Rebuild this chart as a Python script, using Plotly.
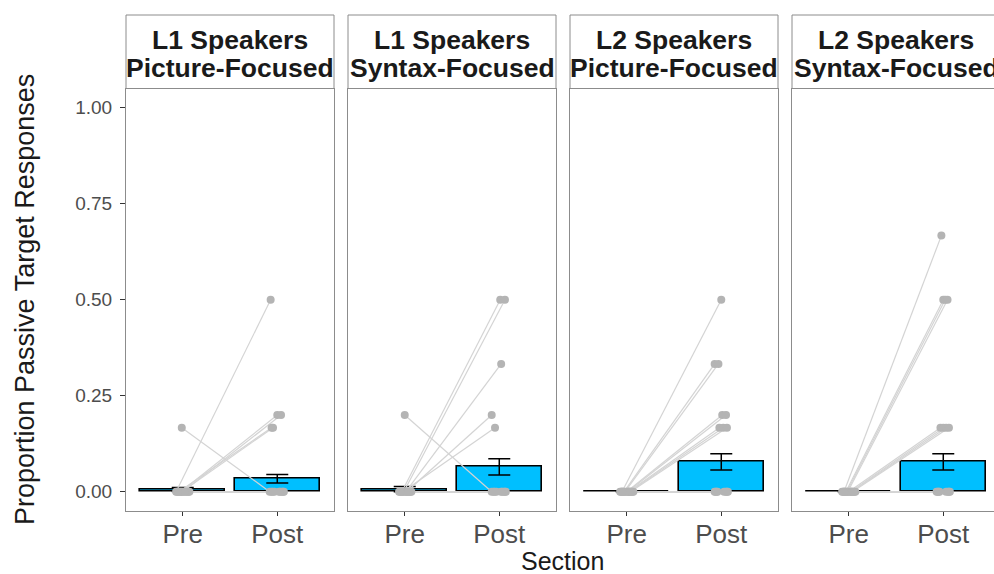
import plotly.graph_objects as go

# ---------------- data ----------------
sections = ["Pre", "Post"]
strip_top = ["L1 Speakers", "L1 Speakers", "L2 Speakers", "L2 Speakers"]
strip_bottom = ["Picture-Focused", "Syntax-Focused", "Picture-Focused", "Syntax-Focused"]

pre_means = [0.006, 0.007, 0.0, 0.0]
post_means = [0.034, 0.065, 0.078, 0.078]
pre_se = [0.005, 0.007, 0.0, 0.0]
post_se = [0.011, 0.021, 0.021, 0.021]

p1_pre = [0, 0, 0, 0, 0, 0.167, 0, 0, 0, 0, 0, 0, 0, 0]
p1_post = [0.5, 0.2, 0.2, 0.167, 0.167, 0, 0, 0, 0, 0, 0, 0, 0, 0]
p1_jit_pre = [-0.07, -0.02, 0.0, -0.04, -0.01, -0.01, 0.06, -0.06, 0.03, 0.07, -0.03, 0.05, 0.02, -0.05]
p1_jit_post = [-0.07, 0.0, 0.04, -0.06, -0.045, -0.08, 0.06, -0.06, 0.03, 0.07, -0.03, 0.05, 0.02, -0.05]

p2_pre = [0.2, 0, 0, 0, 0, 0, 0, 0, 0, 0, 0, 0, 0, 0]
p2_post = [0, 0.5, 0.5, 0.333, 0.2, 0.167, 0, 0, 0, 0, 0, 0, 0, 0]
p2_jit_pre = [0.0, -0.03, -0.01, 0.01, 0.02, -0.02, 0.06, -0.06, 0.03, 0.07, -0.04, 0.05, 0.04, -0.05]
p2_jit_post = [-0.08, 0.01, 0.06, 0.02, -0.08, -0.045, 0.06, -0.06, 0.03, 0.07, -0.03, 0.05, 0.02, -0.05]

p3_pre = [0, 0, 0, 0, 0, 0, 0, 0, 0, 0, 0, 0, 0, 0, 0, 0]
p3_post = [0.5, 0.333, 0.333, 0.2, 0.2, 0.167, 0.167, 0.167, 0, 0, 0, 0, 0, 0, 0, 0]
p3_jit_pre = [-0.05, -0.03, -0.02, 0.0, 0.01, 0.02, 0.03, 0.04, 0.06, -0.06, 0.03, 0.07, -0.04, 0.05, -0.07, -0.05]
p3_jit_post = [0.0, -0.07, -0.03, 0.01, 0.05, -0.02, 0.02, 0.06, 0.06, -0.06, 0.03, 0.07, -0.04, 0.05, -0.07, -0.05]

p4_pre = [0, 0, 0, 0, 0, 0, 0, 0, 0, 0, 0, 0, 0, 0, 0, 0]
p4_post = [0.667, 0.5, 0.5, 0.5, 0.167, 0.167, 0.167, 0.167, 0, 0, 0, 0, 0, 0, 0, 0]
p4_jit_pre = [-0.05, -0.03, -0.02, -0.01, 0.0, 0.02, 0.03, 0.04, 0.06, -0.06, 0.03, 0.07, -0.04, 0.05, -0.07, -0.05]
p4_jit_post = [-0.02, 0.0, 0.02, 0.045, -0.03, 0.0, 0.03, 0.06, 0.06, -0.06, 0.03, 0.07, -0.04, 0.05, -0.07, -0.05]

participants = [
    (p1_pre, p1_post, p1_jit_pre, p1_jit_post),
    (p2_pre, p2_post, p2_jit_pre, p2_jit_post),
    (p3_pre, p3_post, p3_jit_pre, p3_jit_post),
    (p4_pre, p4_post, p4_jit_pre, p4_jit_post),
]

# ---------------- layout geometry ----------------
W, H = 994, 574
ML, MR, MT, MB = 126, 0, 15, 63
PW = W - ML - MR          # plot-area width in px
PH = H - MT - MB          # plot-area height in px
panel_w = 208
gap = 14
strip_h = 73.5
ydom_top = (PH - strip_h) / PH
px_per_unit = panel_w / 2.2

FONT = "Liberation Sans, Arial, Helvetica"
BORDER = "#8c8c8c"
BAR_FILL = "#00BFFF"
LINE_COL = "#d4d4d4"
PT_COL = "#b4b4b4"
TXT_GRAY = "#4d4d4d"

fig = go.Figure()
annotations = []
shapes = []

for k in range(4):
    x0px = k * (panel_w + gap)
    x1px = min(x0px + panel_w, PW)
    dom = [x0px / PW, x1px / PW]
    xr_max = 0.4 + (x1px - x0px) / px_per_unit
    sfx = "" if k == 0 else str(k + 1)
    xa, ya = "x" + sfx, "y" + sfx

    # bars with error bars
    fig.add_trace(go.Bar(
        x=[1, 2], y=[pre_means[k], post_means[k]], width=0.9,
        marker=dict(color=BAR_FILL, line=dict(color="black", width=1.6)),
        error_y=dict(type="data", array=[pre_se[k], post_se[k]], color="black",
                     thickness=1.5, width=11),
        xaxis=xa, yaxis=ya, showlegend=False, hoverinfo="skip"))

    pre, post, jpre, jpost = participants[k]
    lx, ly = [], []
    px, py = [], []
    for a, b, ja, jb in zip(pre, post, jpre, jpost):
        lx += [1 + ja, 2 + jb, None]
        ly += [a, b, None]
        px += [1 + ja, 2 + jb]
        py += [a, b]
    fig.add_trace(go.Scatter(x=lx, y=ly, mode="lines",
                             line=dict(color=LINE_COL, width=1.2),
                             xaxis=xa, yaxis=ya, showlegend=False, hoverinfo="skip"))
    fig.add_trace(go.Scatter(x=px, y=py, mode="markers",
                             marker=dict(color=PT_COL, size=8, line=dict(width=0)),
                             xaxis=xa, yaxis=ya, showlegend=False, hoverinfo="skip"))

    fig.update_layout(**{
        "xaxis" + sfx: dict(domain=dom, range=[0.4, xr_max], anchor=ya,
                            tickmode="array", tickvals=[1, 2], ticktext=sections,
                            ticks="outside", ticklen=4, tickcolor="#333333",
                            ticklabelstandoff=-4,
                            tickfont=dict(size=26, color=TXT_GRAY, family=FONT),
                            showline=True, linecolor=BORDER, linewidth=1, mirror=True,
                            showgrid=False, zeroline=False, fixedrange=True),
        "yaxis" + sfx: dict(domain=[0, ydom_top], range=[-0.05, 1.05], anchor=xa,
                            tickmode="array", tickvals=[0, 0.25, 0.5, 0.75, 1.0],
                            ticktext=["0.00", "0.25", "0.50", "0.75", "1.00"],
                            showticklabels=(k == 0), ticks="outside" if k == 0 else "",
                            ticklen=5, tickcolor="#333333", ticklabelstandoff=4,
                            tickfont=dict(size=19, color=TXT_GRAY, family=FONT),
                            showline=True, linecolor=BORDER, linewidth=1,
                            mirror=(k < 3), showgrid=False, zeroline=False, fixedrange=True),
    })

    # strip
    sx0 = x0px / PW
    sx1 = (x0px + panel_w) / PW
    shapes.append(dict(type="rect", xref="paper", yref="paper", x0=sx0, x1=sx1,
                       y0=ydom_top, y1=1.0, line=dict(color=BORDER, width=1),
                       fillcolor="white", layer="below"))
    cx = (sx0 + sx1) / 2
    for txt, ypx in ((strip_top[k], 39.5), (strip_bottom[k], 67.5)):
        annotations.append(dict(text="<b>%s</b>" % txt, x=cx, y=(H - MB - ypx) / PH,
                                xref="paper", yref="paper", xanchor="center", yanchor="middle",
                                showarrow=False,
                                font=dict(size=26.5, color="#1a1a1a", family=FONT)))

annotations.append(dict(text="Section", x=(PW + 5) / 2 / PW, y=(H - MB - 561) / PH,
                        xref="paper", yref="paper", xanchor="center", yanchor="middle",
                        showarrow=False, font=dict(size=25, color="#1a1a1a", family=FONT)))
annotations.append(dict(text="Proportion Passive Target Responses", textangle=-90,
                        x=(25 - ML) / PW, y=(H - MB - 300) / PH,
                        xref="paper", yref="paper", xanchor="center", yanchor="middle",
                        showarrow=False, font=dict(size=27, color="#1a1a1a", family=FONT)))

fig.update_layout(width=W, height=H, margin=dict(l=ML, r=MR, t=MT, b=MB),
                  plot_bgcolor="white", paper_bgcolor="white",
                  annotations=annotations, shapes=shapes, bargap=0)

fig.write_html("out.html")
